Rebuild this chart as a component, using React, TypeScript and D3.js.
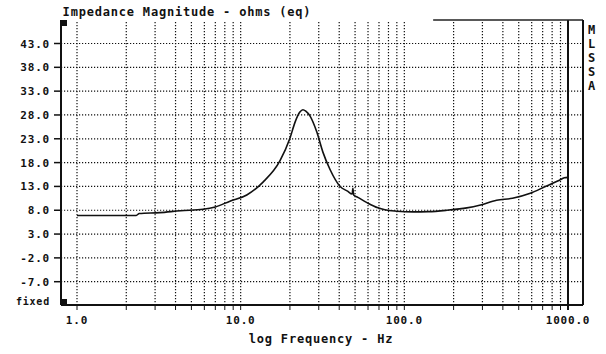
import React from "react";
import * as d3 from "d3";

// impedance sweep (Hz, ohms)
const freqs = [1, 1.5, 2, 2.3, 2.4, 3.2, 4.3, 5.9, 7, 8.6, 10.9, 13.7, 17.4, 20, 21.5, 23, 24, 25, 26.5, 29.2, 31.8, 35.1, 40.5, 45, 48, 48.5, 49, 52, 59.1, 69, 76, 90, 113, 140, 182, 241, 288, 366, 458, 582, 740, 887, 950, 1000];
const ohms = [6.9, 6.9, 6.9, 6.9, 7.3, 7.5, 7.9, 8.2, 8.7, 9.9, 11.2, 13.9, 18.4, 23.1, 26.5, 28.6, 29.1, 28.8, 27.8, 24.4, 20.2, 16.6, 13.0, 12.0, 11.4, 12.6, 11.2, 10.7, 9.6, 8.5, 8.1, 7.8, 7.65, 7.7, 8.0, 8.5, 9.05, 10.1, 10.5, 11.5, 13.1, 14.3, 14.8, 14.9];

const yTicks = [43, 38, 33, 28, 23, 18, 13, 8, 3, -2, -7];
const xLabels = [1, 10, 100, 1000];
const sideText = ["M", "L", "S", "S", "A"];

const title = "Impedance Magnitude - ohms (eq)";
const xTitle = "log Frequency - Hz";

export default function App() {
  const W = 606;
  const H = 354;
  const left = 61;
  const right = 583;
  const top = 20;
  const bottom = 305;

  const x = d3.scaleLog().domain([1, 1000]).range([77, 568]);
  const y = d3.scaleLinear().domain([43, -7]).range([43.5, 281.7]);

  // every 1..9 multiple per decade
  const gridX: number[] = [];
  for (let d = 1; d < 1000; d *= 10) {
    for (let k = 1; k < 10; k++) gridX.push(d * k);
  }

  const line = d3
    .line<number>()
    .x((_, i) => x(freqs[i]))
    .y((d) => y(d))
    .curve(d3.curveMonotoneX);

  const font = {
    fontFamily: "'DejaVu Sans Mono', monospace",
    fontWeight: "bold" as const,
    fontSize: 12,
    letterSpacing: 0.8,
    fill: "#111",
  };

  return (
    <svg
      width={W}
      height={H}
      style={{ position: "absolute", left: 0, top: 0, background: "#fff" }}
    >
      <text x={187} y={16} textAnchor="middle" {...font}>
        {title}
      </text>

      {/* horizontal grid */}
      {yTicks.map((t) => (
        <g key={"h" + t}>
          <line
            x1={left}
            x2={right}
            y1={y(t)}
            y2={y(t)}
            stroke="#111"
            strokeWidth={1.2}
            strokeDasharray="1.2,1.8"
          />
          <line x1={54} x2={left} y1={y(t)} y2={y(t)} stroke="#111" strokeWidth={1.5} />
          <text x={50} y={y(t) + 4} textAnchor="end" {...font} fontSize={11}>
            {t.toFixed(1)}
          </text>
        </g>
      ))}
      <text x={50} y={305} textAnchor="end" {...font} fontSize={10}>
        fixed
      </text>

      {/* vertical grid */}
      {gridX.map((f) => (
        <g key={"v" + f}>
          <line
            x1={x(f)}
            x2={x(f)}
            y1={top + 2}
            y2={bottom}
            stroke="#111"
            strokeWidth={1.2}
            strokeDasharray="1.2,1.8"
          />
          <line x1={x(f)} x2={x(f)} y1={bottom} y2={bottom + 5} stroke="#111" strokeWidth={1} />
        </g>
      ))}
      <line x1={x(1000)} x2={x(1000)} y1={top} y2={bottom + 5} stroke="#111" strokeWidth={2} />

      {xLabels.map((f) => (
        <text key={"xl" + f} x={x(f)} y={324} textAnchor="middle" {...font} fontSize={11}>
          {f.toFixed(1)}
        </text>
      ))}
      <text x={321} y={343} textAnchor="middle" {...font}>
        {xTitle}
      </text>

      {/* frame */}
      <line x1={x(150)} x2={right} y1={top} y2={top} stroke="#222" strokeWidth={1.5} />
      <line x1={left} x2={left} y1={top} y2={bottom} stroke="#111" strokeWidth={2} />
      <line x1={left} x2={right} y1={bottom} y2={bottom} stroke="#111" strokeWidth={2} />
      <line x1={right} x2={right} y1={top} y2={bottom} stroke="#111" strokeWidth={2} />
      <rect x={left} y={top} width={6} height={6} fill="#111" />
      <rect x={left} y={bottom - 6} width={6} height={6} fill="#111" />

      {sideText.map((c, i) => (
        <text key={"s" + i} x={592} y={34 + i * 14} textAnchor="middle" {...font}>
          {c}
        </text>
      ))}

      <path d={line(ohms) || ""} fill="none" stroke="#111" strokeWidth={1.6} />
    </svg>
  );
}
